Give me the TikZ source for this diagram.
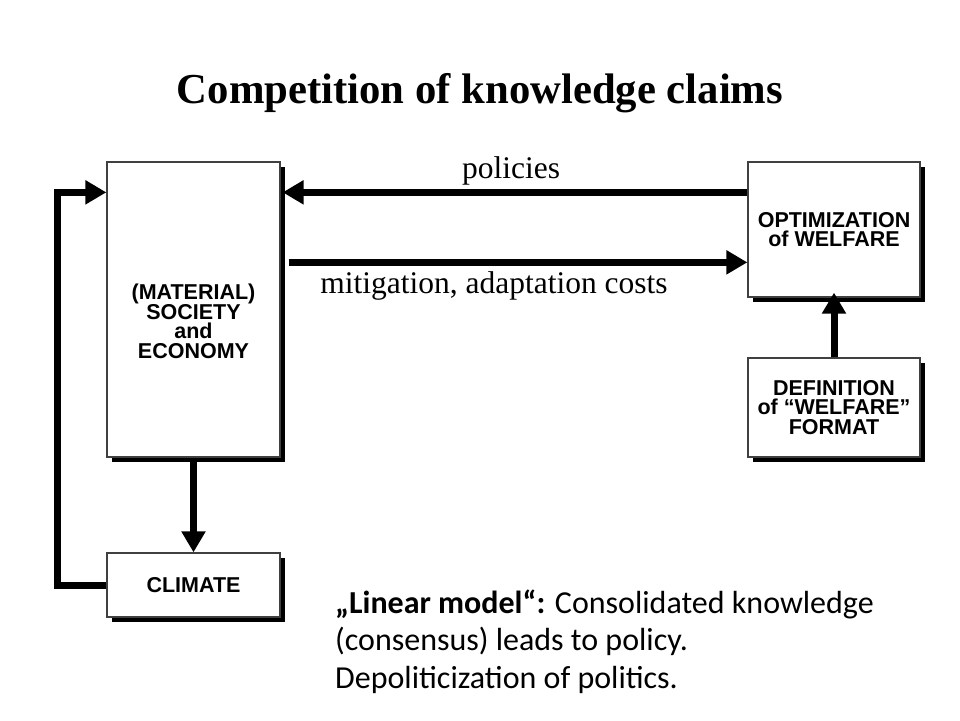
\documentclass[tikz,border=0pt]{standalone}
\usepackage{fontspec}
\setmainfont{Liberation Serif}
\newfontfamily\boxfont{Liberation Sans}
\newfontfamily\notefont{Carlito}
\usetikzlibrary{arrows.meta,calc,shadows}
\def\ArrW{7pt}
\def\TipL{21pt}
\def\TipW{23pt}
\def\ShOff{4.5pt}
\tikzset{
  box/.style={draw=black!75, line width=1.3pt, fill=white, inner sep=0pt,
    align=center, font=\boxfont\bfseries\fontsize{21.5}{19.5}\selectfont,
    drop shadow={shadow xshift=\ShOff, shadow yshift=-\ShOff, opacity=1, fill=black}},
  flow/.style={line width=\ArrW, -{Triangle[length=\TipL,width=\TipW]}},
  lbl/.style={font=\fontsize{31.5}{31.5}\selectfont, inner sep=0pt, anchor=base}
}
\begin{document}
\begin{tikzpicture}[x=1pt, y=-1pt]
\useasboundingbox[fill=white] (0,0) rectangle (960,720);

\node[font=\bfseries\fontsize{42.7}{42.7}\selectfont, anchor=base, inner sep=0pt] (title) at (480,103) {Competition of knowledge claims};

\node[box, minimum width=173, minimum height=295] (soc) at (193.5,309.5) {\mbox{}\\[20pt](MATERIAL)\\SOCIETY\\and\\ECONOMY};
\node[box, minimum width=173, minimum height=64] (clim) at (193.5,585) {CLIMATE};
\node[box, minimum width=172, minimum height=135] (opt) at (834,229.5) {OPTIMIZATION\\of WELFARE};
\node[box, minimum width=172, minimum height=99] (def) at (834,407.5) {DEFINITION\\of \textquotedblleft WELFARE\textquotedblright\\FORMAT};

\draw[flow] ($(opt.north west)+(0,31)$) -- ($(soc.north east)+(2,31)$);
\draw[flow] ($(soc.north east)+(8,101)$) -- ($(opt.north west)+(0,101)$);
\draw[flow] (def.north) -- ([yshift=5pt]opt.south);
\draw[flow] ([yshift=-4pt]soc.south) -- (clim.north);
\draw[flow] (clim.west) -- ++(-49,0) |- ($(soc.north west)+(0,31)$);

\node[lbl] (pol) at (511,178) {policies};
\node[lbl] (cost) at (494,293) {mitigation, adaptation costs};

\node[font=\notefont\fontsize{32}{37.5}\selectfont, align=left, anchor=base west, inner sep=0pt] (note) at (335,688)
  {\textbf{„Linear model“:} Consolidated knowledge\\(consensus) leads to policy.\\Depoliticization of politics.};
\end{tikzpicture}
\end{document}
